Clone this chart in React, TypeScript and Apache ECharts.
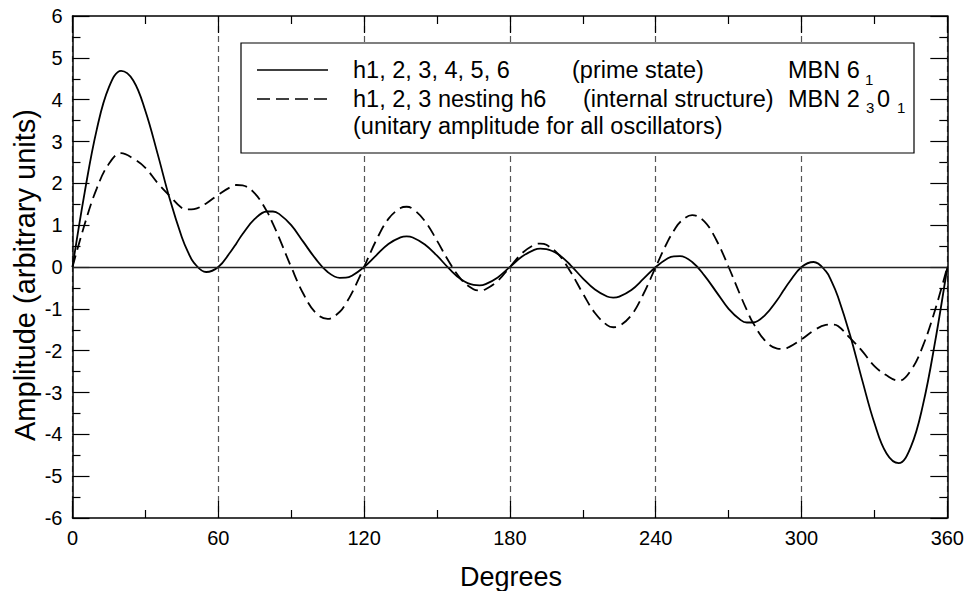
import React, { useEffect, useRef } from "react";
import * as echarts from "echarts";

// x positions (degrees), with a few extra samples near the extrema
const DEGREES = [
  0, 5, 10, 15, 20, 25, 30, 35, 40, 45, 47.5, 50, 55, 60,
  65, 67.5, 70, 75, 80, 82.5, 85, 90, 95, 100, 105, 110, 112.5, 115, 120,
  125, 130, 135, 137.5, 140, 145, 150, 155, 160, 165, 167.5, 170, 175, 180,
  185, 190, 192.5, 195, 200, 205, 210, 215, 220, 222.5, 225, 230, 235, 240,
  245, 247.5, 250, 255, 260, 265, 270, 275, 277.5, 280, 285, 290, 292.5, 295, 300,
  305, 310, 312.5, 315, 320, 325, 330, 335, 340, 345, 350, 355, 360,
];

// h1, 2, 3, 4, 5, 6 (prime state) - solid
const PRIME_STATE = [
  0, 1.78, 3.29, 4.3, 4.69, 4.46, 3.73, 2.71, 1.63, 0.71, 0.36, 0.1, -0.12, 0,
  0.36, 0.57, 0.79, 1.15, 1.327, 1.327, 1.27, 1.0, 0.6, 0.2, -0.12, -0.258, -0.256, -0.21, 0,
  0.28, 0.55, 0.707, 0.73, 0.706, 0.54, 0.27, -0.04, -0.3, -0.43, -0.44, -0.41, -0.25, 0,
  0.25, 0.41, 0.44, 0.43, 0.3, 0.04, -0.27, -0.54, -0.706, -0.73, -0.707, -0.55, -0.28, 0,
  0.21, 0.256, 0.258, 0.12, -0.2, -0.6, -1.0, -1.27, -1.327, -1.327, -1.15, -0.79, -0.57, -0.36, 0,
  0.12, -0.1, -0.36, -0.71, -1.63, -2.71, -3.73, -4.46, -4.69, -4.3, -3.29, -1.78, 0,
];

// h1, 2, 3 nesting h6 (internal structure) - dashed
const NESTED = [
  0, 1.02, 1.88, 2.47, 2.72, 2.59, 2.37, 2.01, 1.7, 1.41, 1.376, 1.385, 1.52, 1.73,
  1.91, 1.96, 1.95, 1.76, 1.33, 1.03, 0.7, 0, -0.64, -1.09, -1.24, -1.07, -0.87, -0.62, 0,
  0.64, 1.15, 1.41, 1.44, 1.39, 1.1, 0.63, 0.12, -0.3, -0.53, -0.56, -0.53, -0.33, 0,
  0.33, 0.53, 0.56, 0.53, 0.3, -0.12, -0.63, -1.1, -1.39, -1.44, -1.41, -1.15, -0.64, 0,
  0.62, 0.87, 1.07, 1.24, 1.09, 0.64, 0, -0.7, -1.03, -1.33, -1.76, -1.95, -1.96, -1.91, -1.73,
  -1.52, -1.385, -1.376, -1.41, -1.7, -2.01, -2.37, -2.59, -2.72, -2.47, -1.88, -1.02, 0,
];

const X_MIN = 0;
const X_MAX = 360;
const X_STEP = 60;
const Y_MIN = -6;
const Y_MAX = 6;
const Y_STEP = 1;

const LEGEND_LINE1 = ["h1, 2, 3, 4, 5, 6", "(prime state)", "MBN 6", "1"];
const LEGEND_LINE2 = ["h1, 2, 3 nesting h6", "(internal structure)", "MBN 2", "3", "0", "1"];
const LEGEND_LINE3 = "(unitary amplitude for all oscillators)";
const X_TITLE = "Degrees";
const Y_TITLE = "Amplitude (arbitrary units)";

const FONT = '"Liberation Sans", Arial, Helvetica, sans-serif';

export default function App() {
  const ref = useRef<HTMLDivElement>(null);

  useEffect(() => {
    if (!ref.current) return;
    const chart = echarts.init(ref.current, undefined, { renderer: "svg" });

    const solid = DEGREES.map((d, i) => [d, PRIME_STATE[i]]);
    const dashed = DEGREES.map((d, i) => [d, NESTED[i]]);

    const axisCommon = {
      axisLine: { show: true, onZero: false, lineStyle: { color: "#000", width: 1.5 } },
      axisTick: { show: true, inside: true, length: 17, lineStyle: { color: "#000", width: 1.2 } },
      minorTick: { show: true, splitNumber: 2, length: 8, lineStyle: { color: "#000", width: 1.2 } },
    };

    const txt = (text: string, x: number, y: number, size: number, extra: any = {}) => ({
      type: "text",
      x,
      y,
      z: 102,
      ...extra,
      style: {
        text,
        fontSize: size,
        fontFamily: FONT,
        fill: "#000",
        align: "left",
        verticalAlign: "middle",
        ...(extra.style || {}),
      },
    });

    chart.setOption({
      animation: false,
      textStyle: { fontFamily: FONT },
      grid: { left: 72.5, right: 17, top: 16, bottom: 73, containLabel: false },
      xAxis: [
        {
          type: "value",
          min: X_MIN,
          max: X_MAX,
          interval: X_STEP,
          position: "bottom",
          ...axisCommon,
          axisLabel: { show: true, color: "#000", fontSize: 20, margin: 10, fontFamily: FONT },
          splitLine: { show: true, lineStyle: { color: "#555", width: 1.2, type: [6, 4] } },
        },
        {
          type: "value",
          min: X_MIN,
          max: X_MAX,
          interval: X_STEP,
          position: "top",
          ...axisCommon,
          axisLabel: { show: false },
          splitLine: { show: false },
        },
      ],
      yAxis: [
        {
          type: "value",
          min: Y_MIN,
          max: Y_MAX,
          interval: Y_STEP,
          position: "left",
          ...axisCommon,
          axisLabel: { show: true, color: "#000", fontSize: 20, margin: 10, fontFamily: FONT },
          splitLine: { show: false },
        },
        {
          type: "value",
          min: Y_MIN,
          max: Y_MAX,
          interval: Y_STEP,
          position: "right",
          ...axisCommon,
          axisLabel: { show: false },
          splitLine: { show: false },
        },
      ],
      series: [
        {
          type: "line",
          name: "prime",
          data: solid,
          smooth: 0.4,
          showSymbol: false,
          lineStyle: { color: "#000", width: 1.8 },
          z: 3,
          markLine: {
            silent: true,
            symbol: "none",
            label: { show: false },
            lineStyle: { color: "#222", width: 1.3, type: "solid" },
            data: [{ yAxis: 0 }],
          },
        },
        {
          type: "line",
          name: "nested",
          data: dashed,
          smooth: 0.4,
          showSymbol: false,
          lineStyle: { color: "#000", width: 1.8, type: [12, 6] },
          z: 3,
        },
      ],
      graphic: [
        {
          type: "rect",
          z: 100,
          shape: { x: 241, y: 43, width: 673, height: 110 },
          style: { fill: "#fff", stroke: "#000", lineWidth: 1.2 },
        },
        {
          type: "line",
          z: 101,
          shape: { x1: 257, y1: 70, x2: 328, y2: 70 },
          style: { stroke: "#000", lineWidth: 1.5 },
        },
        {
          type: "line",
          z: 101,
          shape: { x1: 257, y1: 99, x2: 328, y2: 99 },
          style: { stroke: "#000", lineWidth: 1.5, lineDash: [13, 6] },
        },
        txt(LEGEND_LINE1[0], 353, 70, 23.5),
        txt(LEGEND_LINE1[1], 572, 70, 23.5),
        txt(LEGEND_LINE1[2], 788, 70, 23.5),
        txt(LEGEND_LINE1[3], 865, 79, 15),
        txt(LEGEND_LINE2[0], 353, 98.5, 23.5),
        txt(LEGEND_LINE2[1], 583, 98.5, 23.5),
        txt(LEGEND_LINE2[2], 788, 98.5, 23.5),
        txt(LEGEND_LINE2[3], 866, 107.5, 15),
        txt(LEGEND_LINE2[4], 877, 98.5, 23.5),
        txt(LEGEND_LINE2[5], 897, 107.5, 15),
        txt(LEGEND_LINE3, 353, 126, 23.5),
        txt(X_TITLE, 511, 576.5, 27, { style: { align: "center" } }),
        txt(Y_TITLE, 25, 275, 29, { rotation: Math.PI / 2, style: { align: "center" } }),
      ],
    });

    return () => chart.dispose();
  }, []);

  return (
    <div
      ref={ref}
      style={{ position: "fixed", left: 0, top: 0, width: 967, height: 591, background: "#fff" }}
    />
  );
}
